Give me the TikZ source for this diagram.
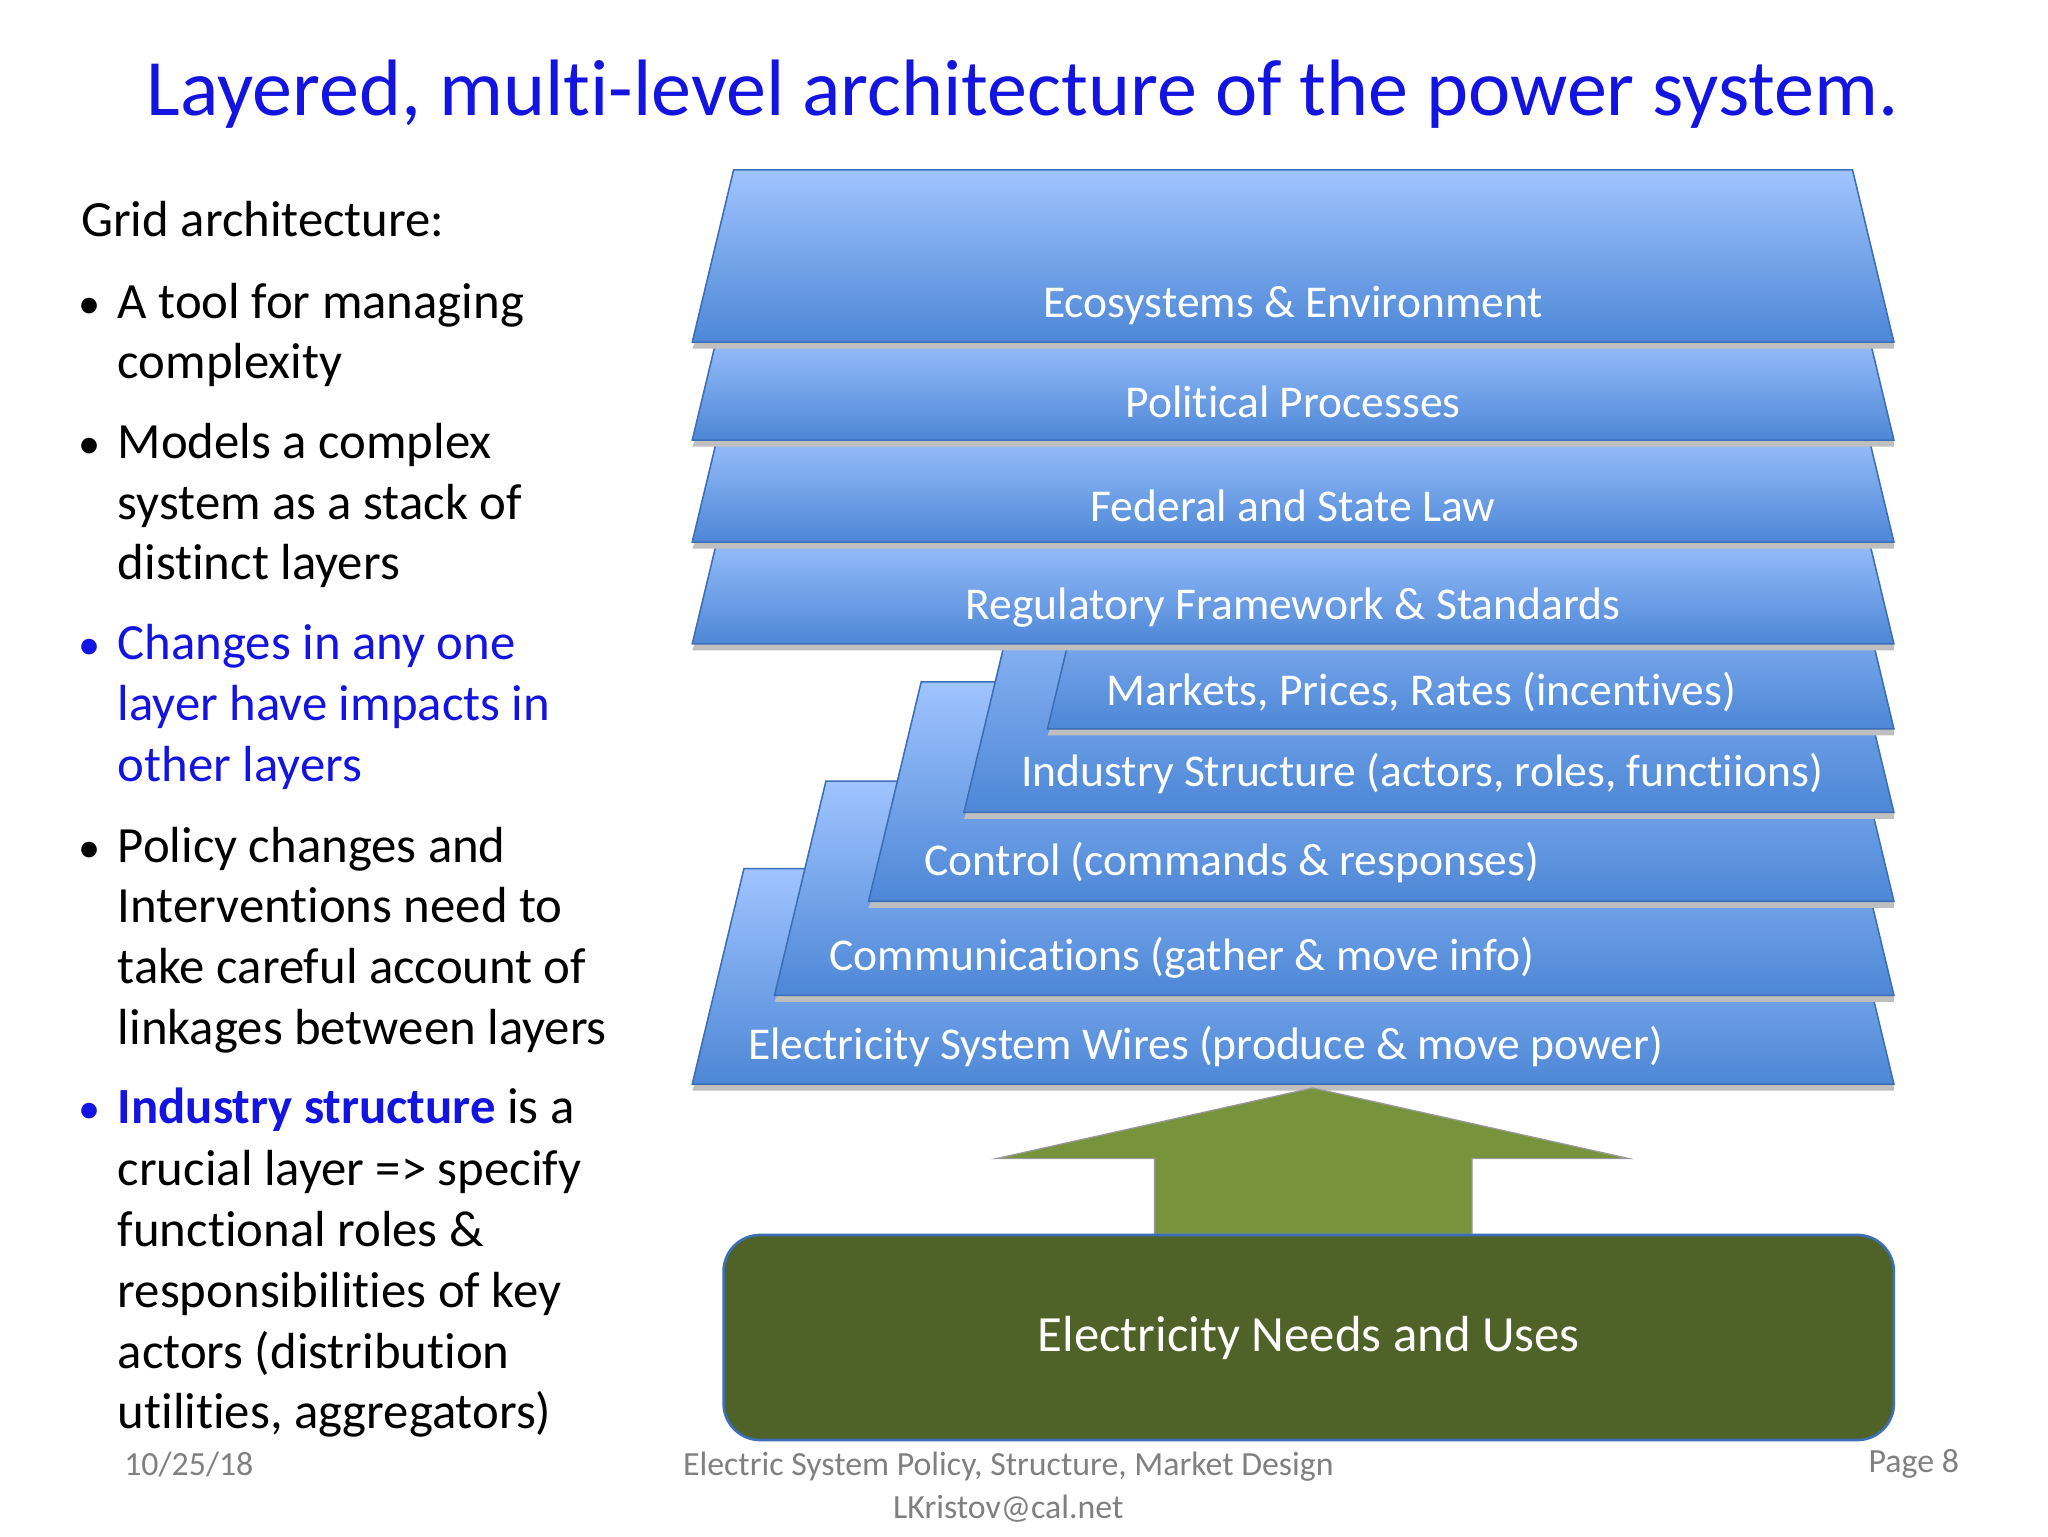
\documentclass[tikz,border=0pt]{standalone}
\usepackage{fontspec}
\setmainfont{Carlito}[Ligatures=NoCommon]
\definecolor{ttl}{HTML}{1414E0}
\definecolor{lay1}{HTML}{A0C4FF}
\definecolor{lay2}{HTML}{4D87D6}
\definecolor{layb}{HTML}{3C6FB6}
\definecolor{grn}{HTML}{77933C}
\definecolor{dgrn}{HTML}{4F6228}
\definecolor{foot}{HTML}{808080}
\begin{document}
\begin{tikzpicture}[x=1bp,y=-1bp,
  lay/.style={top color=lay1,bottom color=lay2,draw=layb,line width=1.2bp},
  laytxt/.style={text=white,font=\fontsize{35}{38}\selectfont,anchor=center},
  body/.style={anchor=base west,font=\fontsize{39}{42}\selectfont,inner sep=0pt},
  bul/.style={anchor=base west,font=\fontsize{34}{42}\selectfont,inner sep=0pt},
  ft/.style={text=foot,font=\fontsize{26}{28}\selectfont,inner sep=0pt}]
\useasboundingbox (0,0) rectangle (1568,1176);
% lower stack: (top y, bottom y, bottom-left x)
\foreach \t/\b/\l in {665/830/530, 598/762/593, 522/690/665, 430/622/738, 430/558/802}{
  \pgfmathsetmacro\h{\b-\t}
  \fill[black!25] (\l+2,\b) -- (1450,\b) -- (1450,\b+5) -- (\l,\b+5) -- cycle;
  \draw[lay] (\l,\b) -- (\l+0.24*\h,\t) -- (1450-0.24*\h,\t) -- (1450,\b) -- cycle;
}
% upper stack
\foreach \t/\b in {405/493, 327/415, 252/337, 130/262}{
  \pgfmathsetmacro\h{\b-\t}
  \fill[black!25] (532,\b) -- (1450,\b) -- (1450,\b+5) -- (530,\b+5) -- cycle;
  \draw[lay] (530,\b) -- (530+0.24*\h,\t) -- (1450-0.24*\h,\t) -- (1450,\b) -- cycle;
}
\node[laytxt] (eco) at (990,234) {Ecosystems \& Environment};
\node[laytxt] (pol) at (990,308) {Political Processes};
\node[laytxt] (fed) at (990,387) {Federal and State Law};
\node[laytxt] (reg) at (990,465) {Regulatory Framework \& Standards};
\node[laytxt] (mkt) at (1088,530) {Markets, Prices, Rates (incentives)};
\node[laytxt] (ind) at (1089,592) {Industry Structure (actors, roles, functiions)};
\node[laytxt] (ctl) at (943,660) {Control (commands \& responses)};
\node[laytxt] (com) at (905,733) {Communications (gather \& move info)};
\node[laytxt] (wir) at (923,801) {Electricity System Wires (produce \& move power)};
% arrow and base
\draw[fill=grn,draw=black!40,line width=1bp] (1005,833) -- (1247,887) -- (1127,887) -- (1127,945) -- (884,945) -- (884,887) -- (763,887) -- cycle;
\node[draw=layb,line width=2bp,fill=dgrn,rounded corners=28bp,minimum width=896bp,minimum height=157bp,
  text=white,font=\fontsize{39}{44}\selectfont] (needs) at (1002,1024) {Electricity Needs and Uses};
% title
\node[text=ttl,font=\fontsize{61.5}{66}\selectfont] (title) at (783,72) {Layered, multi-level architecture of the power system.};
% left text
\node[body] (ga) at (62,181) {Grid architecture:};
\foreach \y/\c in {231/black,338/black,492/ttl,647/black,847/ttl}{
  \node[bul,text=\c] at (60,\y+13) {•};}
\foreach \y/\c/\txt in {
 231/black/A tool for managing, 277/black/complexity,
 338/black/Models a complex, 385/black/system as a stack of, 431/black/distinct layers,
 492/ttl/Changes in any one, 539/ttl/layer have impacts in, 585/ttl/other layers,
 647/black/Policy changes and, 693/black/Interventions need to, 740/black/take careful account of, 787/black/linkages between layers,
 895/black/crucial layer => specify, 941/black/functional roles \&, 988/black/responsibilities of key, 1035/black/actors (distribution, 1081/black/{utilities, aggregators)}}{
  \node[body,text=\c] at (90,\y+13) {\txt};}
\node[body] (is) at (90,860) {\textcolor{ttl}{\bfseries Industry structure} is a};
% footer
\node[ft,anchor=west] (date) at (95,1121) {10/25/18};
\node[ft] (f1) at (772,1123) {Electric System Policy, Structure, Market Design};
\node[ft] (f2) at (772,1155) {LKristov@cal.net};
\node[ft,anchor=east] (pg) at (1500,1121) {Page 8};
\end{tikzpicture}
\end{document}
